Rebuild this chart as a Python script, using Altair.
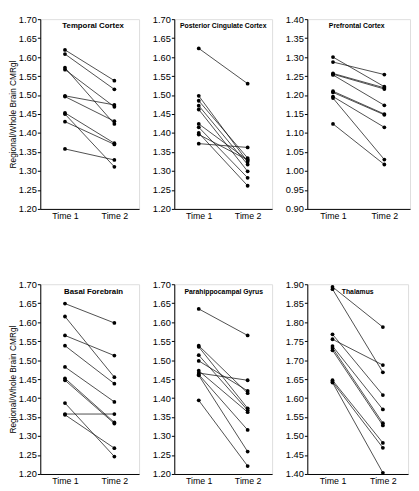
import altair as alt
import pandas as pd

# ---- data ----
regions = ["Temporal Cortex", "Posterior Cingulate Cortex", "Prefrontal Cortex",
           "Basal Forebrain", "Parahippocampal Gyrus", "Thalamus"]
time_labels = ["Time 1", "Time 2"]
time_positions = [1, 3]

temporal_t1 = [1.619, 1.608, 1.572, 1.567, 1.498, 1.496, 1.453, 1.450, 1.430, 1.358]
temporal_t2 = [1.538, 1.515, 1.424, 1.469, 1.474, 1.431, 1.373, 1.311, 1.370, 1.329]

posterior_t1 = [1.623, 1.498, 1.485, 1.472, 1.462, 1.424, 1.415, 1.400, 1.396, 1.372]
posterior_t2 = [1.530, 1.324, 1.334, 1.317, 1.299, 1.329, 1.282, 1.261, 1.329, 1.362]

prefrontal_t1 = [1.300, 1.287, 1.257, 1.255, 1.253, 1.210, 1.207, 1.196, 1.192, 1.124]
prefrontal_t2 = [1.222, 1.254, 1.219, 1.216, 1.173, 1.150, 1.148, 1.115, 1.030, 1.017]

basal_t1 = [1.649, 1.615, 1.565, 1.538, 1.482, 1.452, 1.447, 1.387, 1.358, 1.356]
basal_t2 = [1.598, 1.455, 1.512, 1.438, 1.390, 1.336, 1.333, 1.246, 1.358, 1.268]

parahippo_t1 = [1.635, 1.538, 1.535, 1.513, 1.498, 1.472, 1.466, 1.462, 1.460, 1.394]
parahippo_t2 = [1.565, 1.413, 1.373, 1.368, 1.419, 1.363, 1.447, 1.316, 1.259, 1.221]

thalamus_t1 = [1.893, 1.887, 1.768, 1.755, 1.737, 1.732, 1.726, 1.647, 1.643, 1.641]
thalamus_t2 = [1.787, 1.668, 1.608, 1.687, 1.570, 1.534, 1.528, 1.482, 1.469, 1.403]

ticks_main = [1.20, 1.25, 1.30, 1.35, 1.40, 1.45, 1.50, 1.55, 1.60, 1.65, 1.70]
ticks_pref = [0.90, 0.95, 1.00, 1.05, 1.10, 1.15, 1.20, 1.25, 1.30, 1.35, 1.40]
ticks_thal = [1.40, 1.45, 1.50, 1.55, 1.60, 1.65, 1.70, 1.75, 1.80, 1.85, 1.90]

FONT = "Liberation Sans"
Y_TITLE = "Regional/Whole Brain CMRgl"
H = 194


def panel(name, t1, t2, ticks, width, title_x, title_size, left):
    rows = []
    for i, (a, b) in enumerate(zip(t1, t2)):
        rows.append({"subject": i, "time": time_positions[0], "value": a})
        rows.append({"subject": i, "time": time_positions[1], "value": b})
    df = pd.DataFrame(rows)

    yaxis = alt.Axis(values=ticks, format=".2f", grid=False, tickSize=3,
                     labelFontSize=9.5, labelFont=FONT, labelColor="black",
                     domainColor="black", tickColor="black", labelPadding=1,
                     minExtent=23, maxExtent=23,
                     title=Y_TITLE if left else None,
                     titleFont=FONT, titleFontSize=8.5, titleFontWeight="normal",
                     titleColor="black", titlePadding=0)
    xaxis = alt.Axis(values=time_positions,
                     labelExpr="datum.value == 1 ? 'Time 1' : 'Time 2'",
                     grid=False, ticks=False, labelPadding=3,
                     labelFontSize=9, labelFont=FONT, labelColor="black",
                     domainColor="black", title=None)

    base = alt.Chart(df).encode(
        x=alt.X("time:Q", scale=alt.Scale(domain=[0, 4], nice=False), axis=xaxis),
        y=alt.Y("value:Q", scale=alt.Scale(domain=[ticks[0], ticks[-1]], nice=False, zero=False),
                axis=yaxis),
    )
    lines = base.mark_line(color="#111111", strokeWidth=0.75).encode(detail="subject:N")
    points = base.mark_circle(color="black", size=15, opacity=1)

    tdf = pd.DataFrame({"label": [name]})
    title = alt.Chart(tdf).mark_text(font=FONT, fontSize=title_size, fontWeight="bold",
                                     align="center", baseline="middle").encode(
        text="label:N", x=alt.value(title_x), y=alt.value(7.5),
        color=alt.value("black"))

    return alt.layer(lines, points, title).properties(width=width, height=H)


p1 = panel(regions[0], temporal_t1, temporal_t2, ticks_main, 101, 54, 8, True)
p2 = panel(regions[1], posterior_t1, posterior_t2, ticks_main, 100, 50, 7, False)
p3 = panel(regions[2], prefrontal_t1, prefrontal_t2, ticks_pref, 105, 50.5, 7, False)
p4 = panel(regions[3], basal_t1, basal_t2, ticks_main, 101, 54.5, 8, True)
p5 = panel(regions[4], parahippo_t1, parahippo_t2, ticks_main, 100, 50.5, 7, False)
p6 = panel(regions[5], thalamus_t1, thalamus_t2, ticks_thal, 103, 51.5, 7, False)

chart = alt.vconcat(
    alt.hconcat(p1, p2, p3, spacing=11),
    alt.hconcat(p4, p5, p6, spacing=11),
    spacing=58,
).properties(padding=0).configure_view(stroke=None).configure(background="white")

chart.save("out.html", embed_options={"renderer": "svg", "actions": False})
